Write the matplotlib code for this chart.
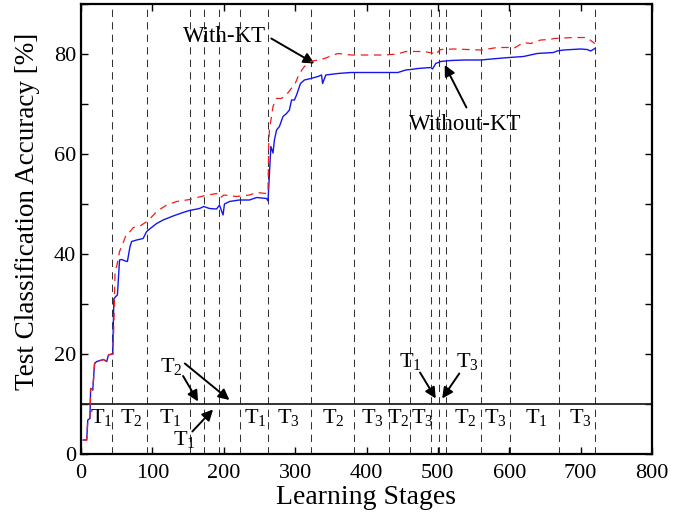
import numpy as np
import matplotlib
matplotlib.use("Agg")
import matplotlib.pyplot as plt
from matplotlib.ticker import MultipleLocator

plt.rcParams['font.family'] = ['Liberation Serif', 'DejaVu Serif']
plt.rcParams['mathtext.fontset'] = 'custom'
plt.rcParams['mathtext.rm'] = 'Liberation Serif'
plt.rcParams['mathtext.default'] = 'regular'

# accuracy curves
stage_wo = [3, 8, 9.5, 12.5, 13.5, 16.5, 19, 22, 27, 31.5, 36, 38.5, 43, 44.5, 46,
            48.7, 51, 54, 57, 62, 65, 68.7, 71, 78, 87, 92, 97, 106, 115, 129, 143,
            152, 166, 172, 180, 190, 194, 199, 201, 208, 222, 236, 246, 260, 262,
            264, 266, 269, 271, 274, 278, 283, 288, 292, 295, 299, 302, 307.5, 313,
            322, 332, 337, 338.5, 343, 360, 378, 402, 425, 444, 455, 462, 472, 490,
            492.5, 497, 504, 518, 537, 560, 583, 600, 620, 639, 662, 667, 676, 700,
            709, 714, 720]
acc_wo = [2.8, 2.8, 6.8, 7.1, 13.1, 12.8, 18.1, 18.5, 18.7, 18.9, 18.5, 19.8, 20.0, 20.0, 31.0,
          31.5, 31.8, 38.8, 38.9, 38.6, 38.5, 41.5, 42.5, 42.8, 43.1, 44.5, 45.1, 46.1, 46.8, 47.6, 48.3,
          48.7, 49.1, 49.5, 49.1, 49.0, 49.8, 47.8, 50.0, 50.5, 50.8, 50.8, 51.3, 51.1, 50.6,
          56.0, 61.5, 60.2, 62.8, 64.8, 65.5, 67.5, 68.1, 68.8, 70.8, 70.8, 71.8, 74.1, 74.8,
          75.1, 75.5, 75.8, 74.1, 75.8, 76.1, 76.3, 76.3, 76.3, 76.3, 76.8, 76.9, 77.1, 77.3,
          77.0, 78.1, 78.5, 78.7, 78.8, 78.8, 79.1, 79.3, 79.5, 80.1, 80.3, 80.6, 80.8, 81.0,
          80.9, 80.6, 81.1]

stage_kt = [3, 8, 9.5, 12.5, 13.5, 16.5, 19, 22, 27, 31.5, 36, 38.5, 43, 45, 47.8,
            50, 54, 57, 64, 68.7, 73.4, 82.7, 94.4, 106, 120, 134, 152.5, 171, 190,
            195, 200, 217.7, 236.3, 245.7, 259.6, 262, 263, 264, 269, 273.6, 280.6,
            287.6, 294.6, 299.2, 306, 313, 321.5, 331.8, 341, 359.8, 378.4, 401.7,
            424.9, 443.6, 455, 466.8, 480.8, 494.8, 499, 500.3, 504, 522.6, 541.3,
            561, 583, 600, 606, 620, 630, 644, 658, 662, 690, 709, 716, 720]
acc_kt = [2.8, 2.8, 6.8, 7.1, 13.1, 12.8, 18.1, 18.5, 18.7, 18.9, 18.5, 19.8, 20.0, 20.0, 36.8,
          37.5, 40.5, 41.5, 44.1, 44.5, 45.3, 45.6, 46.7, 48.5, 49.8, 50.5, 50.9, 51.6, 52.1,
          51.2, 51.8, 51.5, 51.8, 52.3, 52.1, 52.1, 62.0, 64.8, 69.5, 71.1, 71.1,
          71.8, 73.1, 73.8, 76.1, 77.5, 78.5, 78.8, 79.1, 80.1, 79.8, 79.8,
          79.8, 80.0, 80.5, 80.5, 80.5, 80.1, 79.9, 80.5, 80.9, 81.0, 80.9,
          80.8, 81.3, 81.3, 81.1, 82.3, 82.1, 82.8, 82.9, 83.1, 83.3, 83.3, 82.5, 82.1]

# stage boundaries (dashed) and task labels
boundaries = [43, 93, 153, 173, 193, 223, 262, 322, 382, 432, 461, 491, 501, 511,
              561, 601, 670, 720]
task_ids = ["1", "2", "1", "1", "3", "2", "3", "2", "3", "2", "3", "1", "3"]
task_pos = [29, 70, 125.6, 244, 290, 354, 409, 445, 478, 539, 581, 638, 700]

fig = plt.figure(figsize=(6.83, 5.16), dpi=100)
ax = fig.add_axes([81 / 683, 62 / 516, 571 / 683, 450 / 516])

for b in boundaries:
    ax.axvline(b, color='#333333', lw=0.75, ls=(0, (7, 5)), zorder=1)
ax.axhline(10, color='#222222', lw=1.3, zorder=2)

ax.plot(stage_wo, acc_wo, color='#1515ee', lw=1.0, zorder=3)
ax.plot(stage_kt, acc_kt, color='#ee1c1c', lw=0.9, ls=(0, (6, 4.5)), zorder=4)

for tid, xp in zip(task_ids, task_pos):
    ax.text(xp, 7.2, r'T$_%s$' % tid, ha='center', va='center', fontsize=16)

arrow = dict(arrowstyle='-|>', color='k', lw=1.4, mutation_scale=16,
             shrinkA=0, shrinkB=0)
ax.text(127, 17.5, r'T$_2$', ha='center', va='center', fontsize=16)
ax.annotate('', xy=(164, 10.5), xytext=(143, 15.6), arrowprops=arrow)
ax.annotate('', xy=(208, 10.8), xytext=(145.5, 18.1), arrowprops=arrow)
ax.text(145.5, 2.8, r'T$_1$', ha='center', va='center', fontsize=16)
ax.annotate('', xy=(185, 8.9), xytext=(156, 4.5), arrowprops=arrow)
ax.text(462, 18.5, r'T$_1$', ha='center', va='center', fontsize=16)
ax.annotate('', xy=(497, 11.1), xytext=(475, 16.3), arrowprops=arrow)
ax.text(541, 18.5, r'T$_3$', ha='center', va='center', fontsize=16)
ax.annotate('', xy=(506, 11.1), xytext=(530, 16.1), arrowprops=arrow)

ax.text(201.5, 83.5, 'With-KT', ha='center', va='center', fontsize=16.5)
ax.annotate('', xy=(327, 78.1), xytext=(266.6, 83.1), arrowprops=arrow)
ax.text(539, 65.8, 'Without-KT', ha='center', va='center', fontsize=16.5)
ax.annotate('', xy=(509.6, 77.8), xytext=(540, 69.3), arrowprops=arrow)

ax.set_xlim(0, 800)
ax.set_ylim(0, 90)
ax.xaxis.set_major_locator(MultipleLocator(100))
ax.yaxis.set_major_locator(MultipleLocator(20))
ax.yaxis.set_minor_locator(MultipleLocator(10))
ax.tick_params(which='both', direction='in', top=True, right=True, length=5,
               width=1.0, labelsize=16)
ax.tick_params(axis='x', pad=7)
for s in ax.spines.values():
    s.set_linewidth(1.6)

ax.set_xlabel('Learning Stages', fontsize=20, labelpad=2)
ax.set_ylabel('Test Classification Accuracy [%]', fontsize=19.5)
ax.yaxis.set_label_coords(-0.072, 0.54)

fig.savefig('out.png', dpi=100)
